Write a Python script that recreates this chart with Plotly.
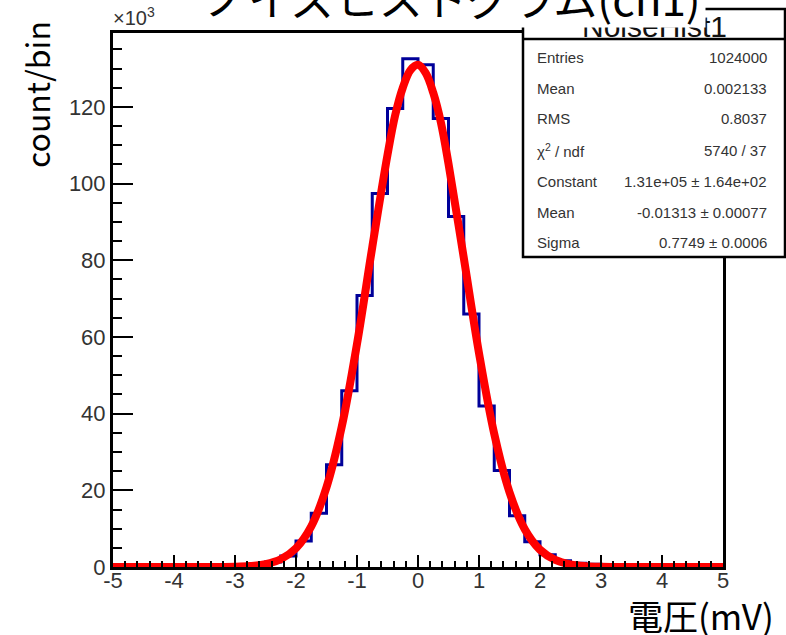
import plotly.graph_objects as go

# ---------------- data ----------------
bin_edges = [-5.0, -4.75, -4.5, -4.25, -4.0, -3.75, -3.5, -3.25, -3.0, -2.75,
             -2.5, -2.25, -2.0, -1.75, -1.5, -1.25, -1.0, -0.75, -0.5, -0.25,
             0.0, 0.25, 0.5, 0.75, 1.0, 1.25, 1.5, 1.75, 2.0, 2.25,
             2.5, 2.75, 3.0, 3.25, 3.5, 3.75, 4.0, 4.25, 4.5, 4.75, 5.0]
# counts per bin in units of 10^3
bin_counts = [0.0, 0.0, 0.0, 0.0, 0.0, 0.01, 0.03, 0.08, 0.25, 0.6,
              1.3, 2.9, 6.8, 14.0, 26.7, 46.0, 70.8, 97.4, 119.6, 132.6,
              131.0, 117.0, 91.4, 66.0, 42.0, 25.2, 13.4, 6.6, 3.2, 1.6,
              1.0, 0.7, 0.4, 0.25, 0.15, 0.1, 0.05, 0.03, 0.02, 0.01]

# gaussian fit curve (units of 10^3)
fit_x = [-5.0, -4.0, -3.5, -3.0, -2.75, -2.5, -2.25, -2.0, -1.75, -1.5, -1.25,
         -1.0, -0.75, -0.5, -0.375, -0.25, -0.125, 0.0, 0.125, 0.25, 0.375,
         0.5, 0.75, 1.0, 1.25, 1.5, 1.75, 2.0, 2.25, 2.5, 2.75, 3.0, 3.5, 4.0, 5.0]
fit_y = [0.0, 0.0, 0.0, 0.08, 0.26, 0.76, 2.03, 4.9, 10.6, 20.8, 36.6,
         58.2, 83.4, 107.5, 117.8, 125.0, 129.6, 131.0, 128.9, 123.7, 116.0,
         105.2, 80.7, 55.8, 34.7, 19.5, 9.85, 4.5, 1.84, 0.68, 0.23, 0.07, 0.0, 0.0, 0.0]

x_tick_vals = [-5, -4, -3, -2, -1, 0, 1, 2, 3, 4, 5]
x_tick_text = ["-5", "-4", "-3", "-2", "-1", "0", "1", "2", "3", "4", "5"]
y_tick_vals = [0, 20, 40, 60, 80, 100, 120]
y_tick_text = ["0", "20", "40", "60", "80", "100", "120"]

stats_labels = ["Entries", "Mean", "RMS", "χ<sup>2</sup> / ndf", "Constant", "Mean", "Sigma"]
stats_values = ["1024000", "0.002133", "0.8037", "5740 / 37",
                "1.31e+05 ± 1.64e+02", "-0.01313 ± 0.00077", "0.7749 ± 0.0006"]

title_text = "ノイズヒストグラム(ch1)"
hist_name = "NoiseHist1"
x_title = "電圧(mV)"
y_title = "count/bin"

# ---------------- layout geometry (pixels) ----------------
W, H = 786, 635
L, R, T, B = 113, 723, 33, 567


def px(xp):
    return (xp - L) / (R - L)


def py(yp):
    return (B - yp) / (B - T)


fig = go.Figure()

# histogram outline (step)
hx = [bin_edges[0]] + bin_edges
hy = [0.0] + bin_counts + [0.0]
fig.add_trace(go.Scatter(x=hx, y=hy, mode="lines", line_shape="hv",
                         line=dict(color="#000099", width=3), hoverinfo="skip",
                         showlegend=False))

# fit curve
fig.add_trace(go.Scatter(x=fit_x, y=fit_y, mode="lines", line_shape="spline",
                         line=dict(color="#FF0000", width=8), hoverinfo="skip",
                         showlegend=False))

tickfont = dict(family="Liberation Sans, Arial, sans-serif", size=22, color="#333333")

fig.update_layout(
    width=W, height=H,
    margin=dict(l=L, r=W - R, t=T, b=H - B, pad=0),
    paper_bgcolor="white", plot_bgcolor="white",
    showlegend=False,
    xaxis=dict(range=[-5, 5], showgrid=False, zeroline=False,
               showline=True, linecolor="black", linewidth=3, mirror=True,
               tickmode="array", tickvals=x_tick_vals, ticktext=x_tick_text,
               ticks="inside", ticklen=12, tickwidth=2, tickcolor="black",
               minor=dict(ticks="inside", ticklen=6, tickwidth=2, tickcolor="black",
                          dtick=0.2, tick0=-5, showgrid=False),
               tickfont=tickfont, ticklabelstandoff=-8),
    yaxis=dict(range=[0, 139.3], showgrid=False, zeroline=False,
               showline=True, linecolor="black", linewidth=3, mirror=True,
               tickmode="array", tickvals=y_tick_vals, ticktext=y_tick_text,
               ticks="inside", ticklen=20, tickwidth=2, tickcolor="black",
               minor=dict(ticks="inside", ticklen=9, tickwidth=2, tickcolor="black",
                          dtick=5, tick0=0, showgrid=False),
               tickfont=tickfont),
)

# stats box
fig.add_shape(type="rect", xref="paper", yref="paper",
              x0=px(523), x1=px(785), y0=py(257), y1=py(9),
              fillcolor="white", line=dict(color="black", width=2.5), layer="above")
fig.add_shape(type="line", xref="paper", yref="paper",
              x0=px(523), x1=px(785), y0=py(39), y1=py(39),
              line=dict(color="black", width=2.5), layer="above")

ann = []
row_y = [57, 88, 119, 150, 181, 212, 243]
sfont = dict(family="Liberation Sans, Arial, sans-serif", size=15, color="#333333")
for lab, val, yy in zip(stats_labels, stats_values, row_y):
    ann.append(dict(text=lab, x=px(535), y=py(yy), xref="paper", yref="paper",
                    xanchor="left", yanchor="middle", showarrow=False, font=sfont))
    ann.append(dict(text=val, x=px(769), y=py(yy), xref="paper", yref="paper",
                    xanchor="right", yanchor="middle", showarrow=False, font=sfont))

ann.append(dict(text=hist_name, x=px(654), y=py(27), xref="paper", yref="paper",
                xanchor="center", yanchor="middle", showarrow=False,
                font=dict(family="Liberation Sans, Arial, sans-serif", size=30, color="#111111")))

# x10^3 multiplier
ann.append(dict(text="×10<sup>3</sup>", x=px(111), y=py(31), xref="paper", yref="paper",
                xanchor="left", yanchor="bottom", showarrow=False,
                font=dict(family="Liberation Sans, Arial, sans-serif", size=20, color="#333333")))

# axis titles
ann.append(dict(text=y_title, x=px(36), y=py(94), xref="paper", yref="paper",
                xanchor="center", yanchor="middle", textangle=-90, showarrow=False,
                font=dict(family="Noto Sans CJK JP, sans-serif", size=32, color="black")))
ann.append(dict(text=x_title, x=px(626), y=py(614), xref="paper", yref="paper",
                xanchor="left", yanchor="middle", showarrow=False,
                font=dict(family="Noto Sans CJK JP, sans-serif", size=35, color="black")))

# white cover behind main title (hides top of stats title)
ann.append(dict(text=" ", x=px(450), y=py(-6), xref="paper", yref="paper",
                xanchor="center", yanchor="middle", width=510, height=66, borderpad=0,
                bgcolor="white", showarrow=False, font=dict(size=10)))

# main title (partially cut off by the page top)
ann.append(dict(text=title_text, x=px(452), y=py(-3), xref="paper", yref="paper",
                xanchor="center", yanchor="middle", showarrow=False,
                font=dict(family="Noto Sans CJK JP, sans-serif", size=44, color="black")))

fig.update_layout(annotations=ann)

fig.write_html("out.html")
